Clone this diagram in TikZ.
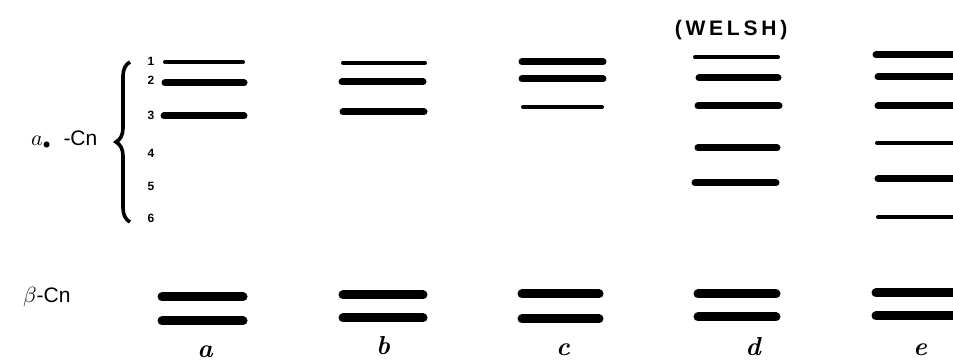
\documentclass[tikz,border=0pt]{standalone}
\usepackage{fontspec}
\newfontfamily\labelfont{Liberation Sans}
\newfontfamily\welshfont[LetterSpace=18]{Liberation Sans}
\usetikzlibrary{decorations.pathreplacing}

\tikzset{
  bandthick/.style={line width=3.5pt, line cap=round},
  bandthin/.style={line width=2pt, line cap=round},
  bandbeta/.style={line width=4.5pt, line cap=round},
  lanelabel/.style={font=\fontsize{13}{15}\selectfont\itshape\bfseries},
  levelnum/.style={font=\labelfont\bfseries\fontsize{6}{7}\selectfont, inner sep=0pt}
}

\begin{document}
\begin{tikzpicture}[x=0.5pt,y=-0.5pt]

  \useasboundingbox (0,0) rectangle (953,362);

  % Row labels
  \node[font=\labelfont\fontsize{10.5}{12}\selectfont, anchor=west] (alpha) at (24,140) {$a_{\bullet}$\ \ -Cn};
  \node[font=\labelfont\fontsize{10.5}{12}\selectfont, anchor=west] (beta) at (16,297) {$\beta$-Cn};

  % Brace
  \coordinate (braceTop) at (130,62);
  \coordinate (braceBot) at (130,222);
  \draw[line width=1.8pt, decorate, decoration={brace, amplitude=7pt}] (braceBot) -- (braceTop);

  % Level numbers
  \foreach \n/\y in {1/61, 2/80, 3/115, 4/153, 5/186, 6/218}
    \node[levelnum] (num\n) at (151,\y) {\n};

  % Lane a
  \draw[bandthin]  (165,62) -- (243,62);
  \draw[bandthick] (165,83) -- (244,83);
  \draw[bandthick] (164,116) -- (244,116);

  % Lane b
  \draw[bandthin]  (343,63) -- (425,63);
  \draw[bandthick] (342,82) -- (423,82);
  \draw[bandthick] (343,112) -- (424,112);

  % Lane c
  \draw[bandthick] (522,62) -- (603,62);
  \draw[bandthick] (522,79) -- (603,79);
  \draw[bandthin]  (523,107) -- (602,107);

  % Lane d (Welsh)
  \node[font=\welshfont\bfseries\fontsize{10.5}{12}\selectfont] (welsh) at (731,30) {(WELSH)};
  \draw[bandthin]  (695,57) -- (778,57);
  \draw[bandthick] (699,78) -- (778,78);
  \draw[bandthick] (698,106) -- (779,106);
  \draw[bandthick] (698,148) -- (777,148);
  \draw[bandthick] (695,183) -- (776,183);

  % Lane e
  \draw[bandthick] (876,55) -- (955,55);
  \draw[bandthick] (878,77) -- (955,77);
  \draw[bandthick] (878,106) -- (955,106);
  \draw[bandthin]  (877,143) -- (955,143);
  \draw[bandthick] (878,179) -- (955,179);
  \draw[bandthin]  (878,217) -- (955,217);

  % Beta bands
  \foreach \l/\xa/\xb/\ya/\yb in {a/162/243/297/321, b/343/423/295/318, c/522/599/294/319, d/698/776/294/317, e/876/955/293/316}{
    \draw[bandbeta] (\xa,\ya) -- (\xb,\ya);
    \draw[bandbeta] (\xa,\yb) -- (\xb,\yb);
  }

  % Lane letters
  \node[lanelabel] (la) at (205,352) {a};
  \node[lanelabel] (lb) at (383,346) {b};
  \node[lanelabel] (lc) at (563,350) {c};
  \node[lanelabel] (ld) at (753,347) {d};
  \node[lanelabel] (le) at (920,350) {e};

\end{tikzpicture}
\end{document}
